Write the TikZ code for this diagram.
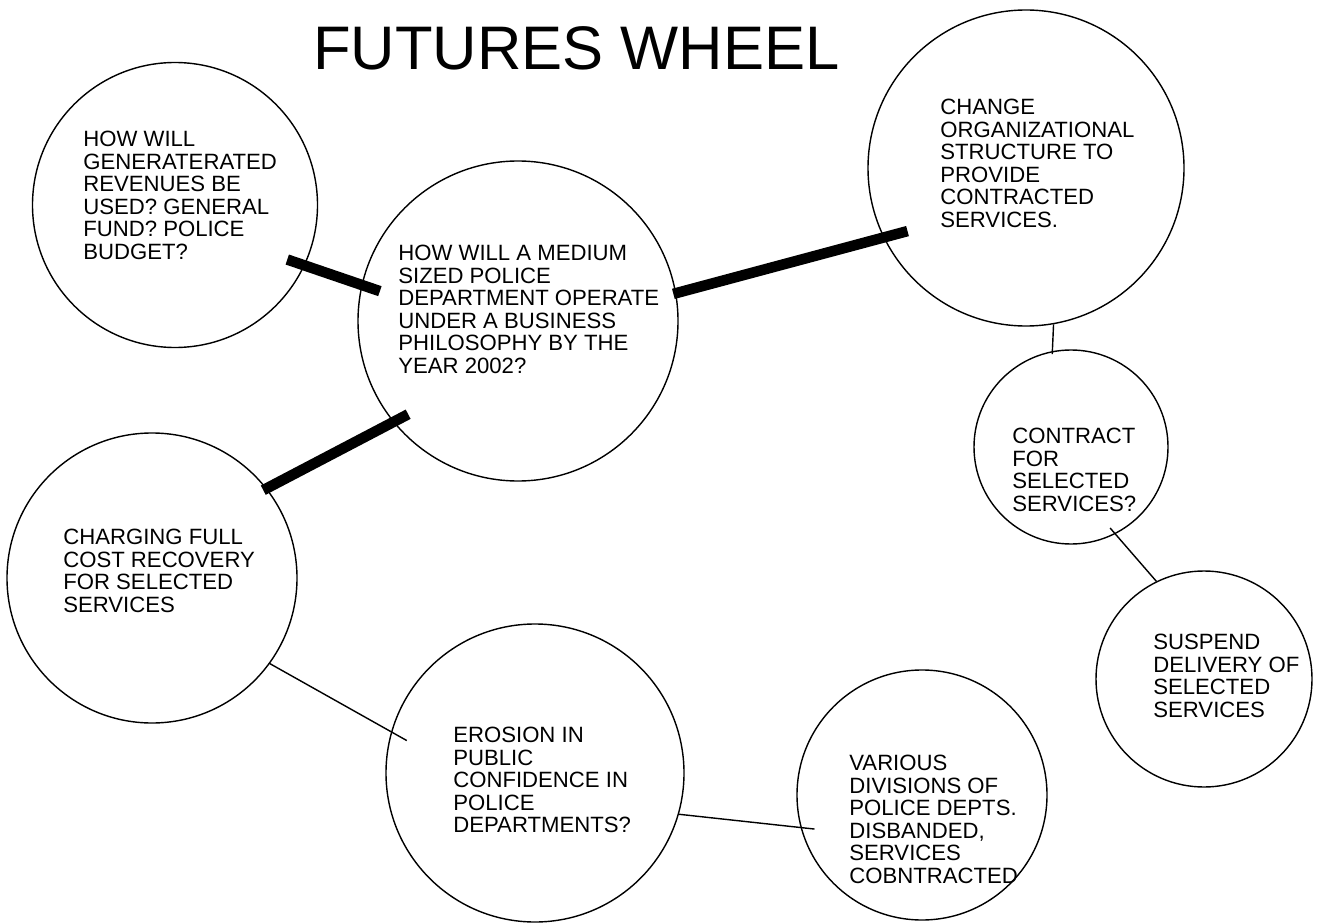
\documentclass[tikz,border=0pt]{standalone}
\usepackage{fontspec}
\setmainfont{Liberation Sans}
\usetikzlibrary{calc}

\begin{document}
\begin{tikzpicture}[every node/.style={font=\fontsize{12.6}{12.8}\selectfont},
  bubble/.style={draw, circle, line width=0.8pt, inner sep=0pt},
  txt/.style={anchor=north west, align=left, inner sep=0pt},
  spoke/.style={line width=6pt},
  link/.style={line width=0.8pt}]
  \useasboundingbox (0,0) rectangle (26.44,-18.48);
  % Title
  \node[anchor=base west, font=\fontsize{35}{40}\selectfont] (title) at (6.14,-1.40) {FUTURES WHEEL};
  % Circles of the wheel
  \node[bubble, minimum size=5.7cm] (c1) at (3.50,-4.10) {};
  \node[bubble, minimum size=6.4cm] (c2) at (10.36,-6.42) {};
  \node[bubble, minimum size=6.32cm] (c3) at (20.52,-3.36) {};
  \node[bubble, minimum size=3.88cm] (c4) at (21.42,-8.94) {};
  \node[bubble, minimum size=4.32cm] (c5) at (24.08,-13.58) {};
  \node[bubble, minimum size=5.8cm] (c6) at (3.04,-11.56) {};
  \node[bubble, minimum size=5.96cm] (c7) at (10.70,-15.46) {};
  \node[bubble, minimum size=5.0cm] (c8) at (18.44,-15.90) {};
  % Texts in the circles
  \node[txt] (t1) at (1.66,-2.62) {HOW WILL\\GENERATERATED\\REVENUES BE\\USED? GENERAL\\FUND? POLICE\\BUDGET?};
  \node[txt] (t2) at (7.96,-4.90) {HOW WILL A MEDIUM\\SIZED POLICE\\DEPARTMENT OPERATE\\UNDER A BUSINESS\\PHILOSOPHY BY THE\\YEAR 2002?};
  \node[txt] (t3) at (18.80,-1.98) {CHANGE\\ORGANIZATIONAL\\STRUCTURE TO\\PROVIDE\\CONTRACTED\\SERVICES.};
  \node[txt] (t4) at (20.24,-8.56) {CONTRACT\\FOR\\SELECTED\\SERVICES?};
  \node[txt] (t5) at (23.06,-12.68) {SUSPEND\\DELIVERY OF\\SELECTED\\SERVICES};
  \node[txt] (t6) at (1.26,-10.58) {CHARGING FULL\\COST RECOVERY\\FOR SELECTED\\SERVICES};
  \node[txt] (t7) at (9.06,-14.54) {EROSION IN\\PUBLIC\\CONFIDENCE IN\\POLICE\\DEPARTMENTS?};
  \node[txt] (t8) at (16.98,-15.10) {VARIOUS\\DIVISIONS OF\\POLICE DEPTS.\\DISBANDED,\\SERVICES\\COBNTRACTED};
  % First order spokes
  \draw[spoke, shorten <=-0.37cm, shorten >=-0.39cm] (c1.-25) -- (c2.167);
  \draw[spoke, shorten <=-0.06cm, shorten >=-0.5cm] (c2.10) -- (c3.206);
  \draw[spoke, shorten <=-0.08cm, shorten >=-0.34cm] (c6.38) -- (c2.219);
  % Second and third order links
  \draw[link, shorten >=-0.06cm] (c3.-80) -- (c4.101);
  \draw[link, shorten <=-0.16cm] (c4.-63) -- (c5.116);
  \draw[link, shorten >=-0.36cm] (c6.-36) -- (c7.164);
  \draw[link, shorten >=-0.28cm] (c7.-16) -- (c8.195);
\end{tikzpicture}
\end{document}
